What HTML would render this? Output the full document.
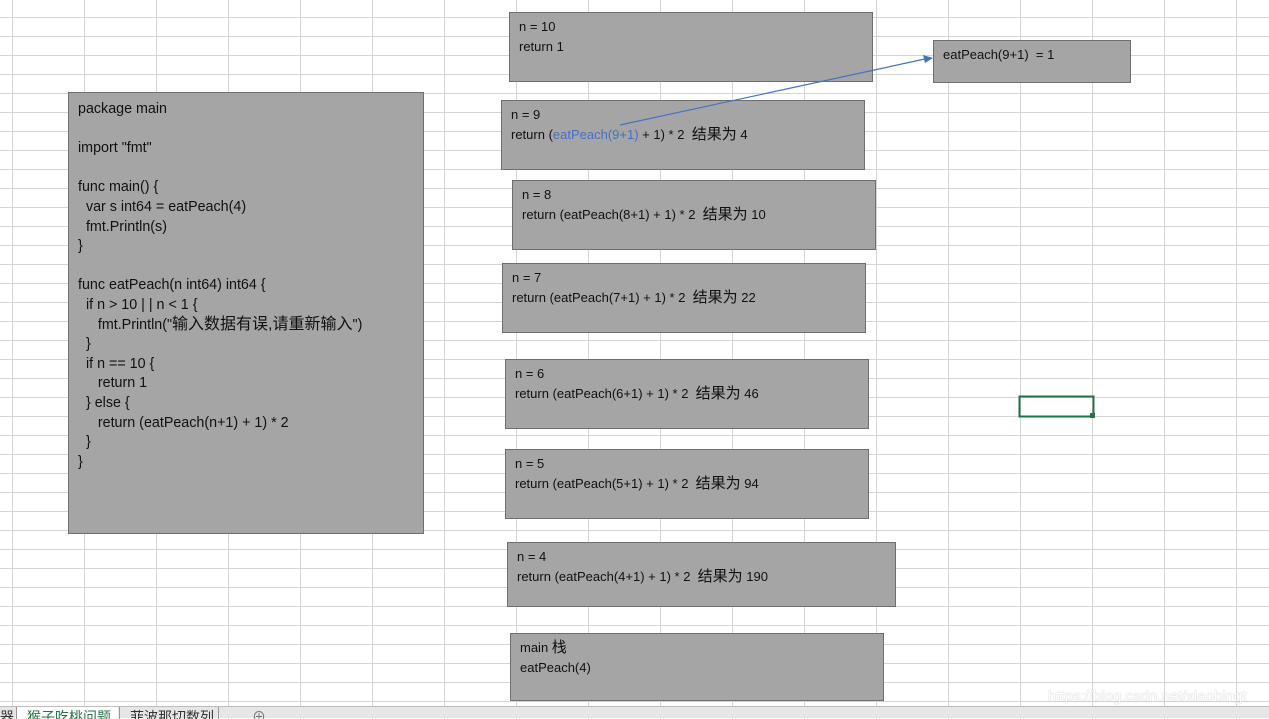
<!DOCTYPE html>
<html><head><meta charset="utf-8">
<style>
html,body{margin:0;padding:0;}
body{width:1269px;height:717px;position:relative;overflow:hidden;background:#fff;
font-family:"Liberation Sans","Noto Sans CJK SC",sans-serif;font-size:13px;color:#111;
background-image:
linear-gradient(to right,#d4d4d4 1px,transparent 1px),
linear-gradient(to bottom,#d4d4d4 1px,transparent 1px);
background-size:72px 19px;background-position:12px 17px;}
.b{position:absolute;background:#a5a5a5;border:1px solid #6f6f6f;box-sizing:border-box;padding:4px 9px;line-height:19.6px;white-space:pre;}
.blue{color:#4472c4;}
.c{font-size:15px;line-height:15px;}
.code{font-size:14.3px;}
.code .c{font-size:16px;}
.tabs{position:absolute;left:0;top:706px;width:1269px;height:11px;background:#e6e6e6;border-top:1px solid #bdbdbd;}
.tab{position:absolute;top:0;height:12px;font-size:14px;line-height:20px;overflow:hidden;}
.wm{position:absolute;left:1048px;top:688px;color:#fff;font-size:15px;opacity:.9;text-shadow:0 0 1px #999;}
</style></head><body>
<div class="b code" style="left:68px;top:92px;width:356px;height:442px;padding-top:7px;">package main

import "fmt"

func main() {
  var s int64 = eatPeach(4)
  fmt.Println(s)
}

func eatPeach(n int64) int64 {
  if n &gt; 10 | | n &lt; 1 {
     fmt.Println("<span class="c">输入数据有误,请重新输入</span>")
  }
  if n == 10 {
     return 1
  } else {
     return (eatPeach(n+1) + 1) * 2
  }
}</div>
<div class="b" style="left:509px;top:12px;width:364px;height:70px;">n = 10
return 1</div>
<div class="b" style="left:933px;top:40px;width:198px;height:43px;">eatPeach(9+1)  = 1</div>
<div class="b" style="left:501px;top:100px;width:364px;height:70px;">n = 9
return (<span class="blue">eatPeach(9+1)</span> + 1) * 2  <span class="c">结果为</span> 4</div>
<div class="b" style="left:512px;top:180px;width:364px;height:70px;">n = 8
return (eatPeach(8+1) + 1) * 2  <span class="c">结果为</span> 10</div>
<div class="b" style="left:502px;top:263px;width:364px;height:70px;">n = 7
return (eatPeach(7+1) + 1) * 2  <span class="c">结果为</span> 22</div>
<div class="b" style="left:505px;top:359px;width:364px;height:70px;">n = 6
return (eatPeach(6+1) + 1) * 2  <span class="c">结果为</span> 46</div>
<div class="b" style="left:505px;top:449px;width:364px;height:70px;">n = 5
return (eatPeach(5+1) + 1) * 2  <span class="c">结果为</span> 94</div>
<div class="b" style="left:507px;top:542px;width:389px;height:65px;">n = 4
return (eatPeach(4+1) + 1) * 2  <span class="c">结果为</span> 190</div>
<div class="b" style="left:510px;top:633px;width:374px;height:68px;">main <span class="c">栈</span>
eatPeach(4)</div>
<svg style="position:absolute;left:0;top:0" width="1269" height="717">
<line x1="620" y1="125" x2="925" y2="59" stroke="#4472c4" stroke-width="1.2"/>
<polygon points="933,58 923,55 925,63" fill="#4472c4"/>
<rect x="1019.5" y="396.5" width="74" height="20" fill="none" stroke="#217346" stroke-width="2"/>
<rect x="1090" y="413" width="5" height="5" fill="#217346"/>
</svg>
<div class="wm">https://blog.csdn.net/xiaobingt</div>
<div class="tabs">
<div class="tab" style="left:0;width:16px;border-right:1px solid #999;color:#333;">器</div>
<div class="tab" style="left:17px;width:101px;background:#fff;color:#217346;padding-left:10px;box-sizing:border-box;">猴子吃桃问题</div>
<div class="tab" style="left:119px;width:100px;border-left:1px solid #999;border-right:1px solid #999;padding-left:10px;box-sizing:border-box;color:#333;">菲波那切数列</div>
<div class="tab" style="left:252px;width:16px;color:#777;">⊕</div>
</div>
</body></html>
